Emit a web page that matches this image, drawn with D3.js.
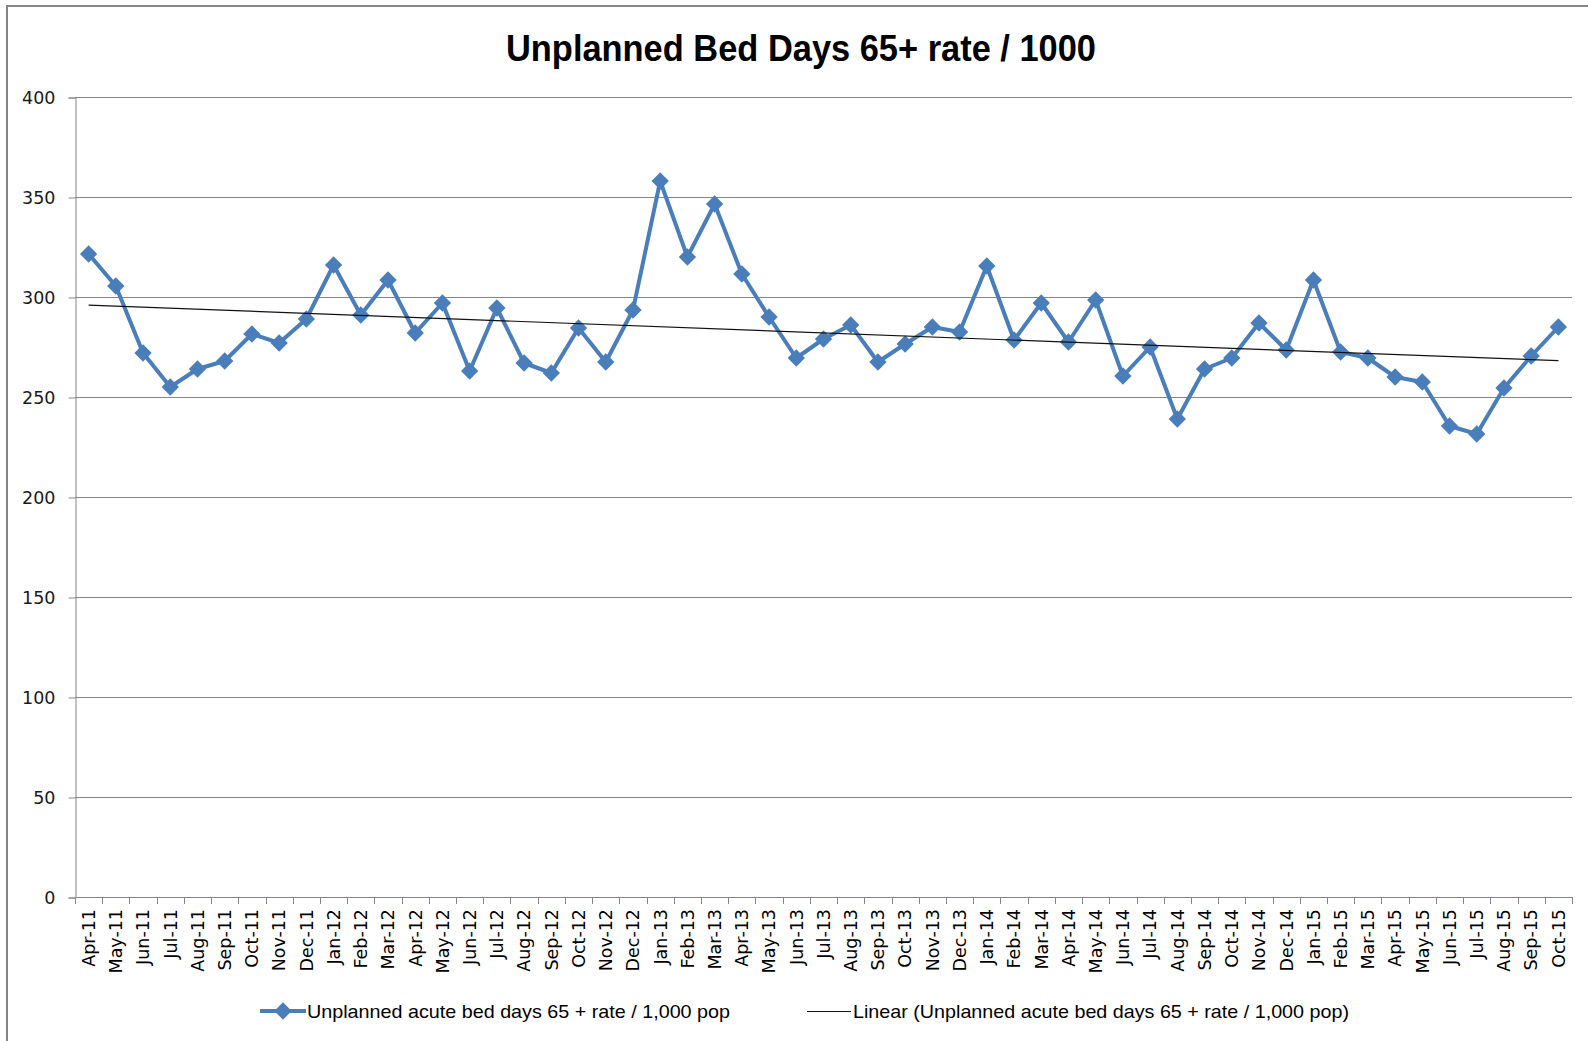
<!DOCTYPE html>
<html>
<head>
<meta charset="utf-8">
<script src="https://cdn.jsdelivr.net/npm/d3@7"></script>
<style>
  html, body { margin: 0; padding: 0; background: #fff; overflow: hidden; }
  svg { display: block; }
</style>
</head>
<body>
<svg id="chart" width="1588" height="1041"></svg>
<script>
// months shown on the category axis
var months = ["Apr-11","May-11","Jun-11","Jul-11","Aug-11","Sep-11","Oct-11","Nov-11","Dec-11",
  "Jan-12","Feb-12","Mar-12","Apr-12","May-12","Jun-12","Jul-12","Aug-12","Sep-12","Oct-12","Nov-12","Dec-12",
  "Jan-13","Feb-13","Mar-13","Apr-13","May-13","Jun-13","Jul-13","Aug-13","Sep-13","Oct-13","Nov-13","Dec-13",
  "Jan-14","Feb-14","Mar-14","Apr-14","May-14","Jun-14","Jul-14","Aug-14","Sep-14","Oct-14","Nov-14","Dec-14",
  "Jan-15","Feb-15","Mar-15","Apr-15","May-15","Jun-15","Jul-15","Aug-15","Sep-15","Oct-15"];

// unplanned acute bed days 65+ rate / 1,000 pop
var rates = [321.5, 305.5, 272, 255, 264, 268, 281.5, 277, 289,
  316, 291, 308.5, 282, 297, 263, 294.5, 267, 262, 284.5, 267.5, 293.5,
  358, 320, 346.5, 311.5, 290, 269.5, 279, 286, 267.5, 276.5, 285, 282.5,
  315.5, 278.5, 297, 277.5, 298.5, 260.5, 275, 239, 264, 269.5, 287, 273.5,
  308.5, 272.5, 269.5, 260, 257.5, 235.5, 231.5, 254.5, 270.5, 285];

var yTicks = [0, 50, 100, 150, 200, 250, 300, 350, 400];

var titleText = "Unplanned Bed Days 65+ rate / 1000";
var seriesName = "Unplanned acute bed days 65 + rate / 1,000 pop";
var trendName = "Linear (Unplanned acute bed days 65 + rate / 1,000 pop)";

var blue = "#4a7ebb";
var grey = "#868686";

var plot = {left: 75, right: 1572, top: 97, bottom: 897};

var svg = d3.select("#chart");

// outer chart border (runs off the right and bottom edge like the screenshot)
svg.append("rect")
  .attr("x", 7).attr("y", 6)
  .attr("width", 1620).attr("height", 1080)
  .attr("fill", "none")
  .attr("stroke", grey)
  .attr("stroke-width", 2);

svg.append("text")
  .attr("x", 801)
  .attr("y", 61)
  .attr("text-anchor", "middle")
  .attr("textLength", 590)
  .attr("lengthAdjust", "spacingAndGlyphs")
  .style("font-family", "'Liberation Sans Narrow', 'Liberation Sans', Arial, sans-serif")
  .style("font-weight", "bold")
  .style("font-size", "37px")
  .style("fill", "#000")
  .text(titleText);

var xScale = d3.scaleBand()
  .domain(months)
  .range([plot.left, plot.right])
  .padding(0);

var yScale = d3.scaleLinear()
  .domain([0, 400])
  .range([plot.bottom, plot.top]);

var cx = function (m) { return xScale(m) + xScale.bandwidth() / 2; };

// horizontal gridlines
svg.append("g")
  .selectAll("line")
  .data(yTicks.filter(function (t) { return t > 0; }))
  .enter().append("line")
    .attr("x1", plot.left).attr("x2", plot.right)
    .attr("y1", function (d) { return Math.round(yScale(d)) + 0.5; })
    .attr("y2", function (d) { return Math.round(yScale(d)) + 0.5; })
    .attr("stroke", grey)
    .attr("stroke-width", 1);

// y axis
var yAxis = d3.axisLeft(yScale).tickValues(yTicks).tickSize(7).tickPadding(13);
var yG = svg.append("g")
  .attr("transform", "translate(" + (plot.left + 0.5) + ",0.5)")
  .call(yAxis);
yG.select(".domain").attr("stroke", grey);
yG.selectAll(".tick line").attr("stroke", grey);
yG.selectAll(".tick text")
  .style("font-family", "'DejaVu Sans', sans-serif")
  .style("font-size", "17.5px")
  .style("fill", "#1a1a1a");

// x axis line + boundary ticks (Excel puts tick marks between categories)
var xG = svg.append("g").attr("class", "xaxis");
xG.append("line")
  .attr("x1", plot.left).attr("x2", plot.right)
  .attr("y1", plot.bottom + 0.5).attr("y2", plot.bottom + 0.5)
  .attr("stroke", grey);
var edges = months.map(function (m) { return xScale(m); }).concat([plot.right]);
xG.selectAll("line.tk")
  .data(edges)
  .enter().append("line")
    .attr("class", "tk")
    .attr("x1", function (d) { return Math.round(d) + 0.5; })
    .attr("x2", function (d) { return Math.round(d) + 0.5; })
    .attr("y1", plot.bottom)
    .attr("y2", plot.bottom + 7)
    .attr("stroke", grey);

// rotated category labels
var xAxis = d3.axisBottom(xScale).tickSize(0);
var xl = svg.append("g")
  .attr("transform", "translate(0," + plot.bottom + ")")
  .call(xAxis);
xl.select(".domain").remove();
xl.selectAll(".tick text")
  .attr("transform", "rotate(-90)")
  .attr("x", -12)
  .attr("y", 0)
  .attr("dy", "0.36em")
  .attr("text-anchor", "end")
  .style("font-family", "'DejaVu Sans', sans-serif")
  .style("font-size", "17.5px")
  .style("fill", "#000");

// least squares trend line through the series
var n = rates.length;
var mx = d3.mean(rates, function (d, i) { return i; });
var my = d3.mean(rates);
var sxy = d3.sum(rates, function (d, i) { return (i - mx) * (d - my); });
var sxx = d3.sum(rates, function (d, i) { return (i - mx) * (i - mx); });
var slope = sxy / sxx;
var icpt = my - slope * mx;

// data line
var line = d3.line()
  .x(function (d, i) { return cx(months[i]); })
  .y(function (d) { return yScale(d); });

svg.append("path")
  .datum(rates)
  .attr("d", line)
  .attr("fill", "none")
  .attr("stroke", blue)
  .attr("stroke-width", 4)
  .attr("stroke-linejoin", "round");

var diamond = d3.symbol().type(d3.symbolSquare).size(150);
svg.append("g")
  .selectAll("path")
  .data(rates)
  .enter().append("path")
    .attr("d", diamond)
    .attr("transform", function (d, i) {
      return "translate(" + cx(months[i]) + "," + yScale(d) + ") rotate(45)";
    })
    .attr("fill", blue);

svg.append("line")
  .attr("x1", cx(months[0]))
  .attr("y1", yScale(icpt))
  .attr("x2", cx(months[n - 1]))
  .attr("y2", yScale(icpt + slope * (n - 1)))
  .attr("stroke", "#111")
  .attr("stroke-width", 1.2);

// legend
var legY = 1011;
var leg = svg.append("g");
leg.append("line")
  .attr("x1", 260).attr("x2", 306)
  .attr("y1", legY).attr("y2", legY)
  .attr("stroke", blue).attr("stroke-width", 4);
leg.append("path")
  .attr("d", diamond)
  .attr("transform", "translate(283," + legY + ") rotate(45)")
  .attr("fill", blue);
leg.append("text")
  .attr("x", 307).attr("y", legY)
  .attr("dy", "0.35em")
  .attr("textLength", 423)
  .attr("lengthAdjust", "spacingAndGlyphs")
  .style("font-family", "'Liberation Sans Narrow', 'Liberation Sans', sans-serif")
  .style("font-size", "19px")
  .style("fill", "#000")
  .text(seriesName);

leg.append("line")
  .attr("x1", 807).attr("x2", 851)
  .attr("y1", legY + 0.5).attr("y2", legY + 0.5)
  .attr("stroke", "#111").attr("stroke-width", 1.2);
leg.append("text")
  .attr("x", 853).attr("y", legY)
  .attr("dy", "0.35em")
  .attr("textLength", 496)
  .attr("lengthAdjust", "spacingAndGlyphs")
  .style("font-family", "'Liberation Sans Narrow', 'Liberation Sans', sans-serif")
  .style("font-size", "19px")
  .style("fill", "#000")
  .text(trendName);
</script>
</body>
</html>
